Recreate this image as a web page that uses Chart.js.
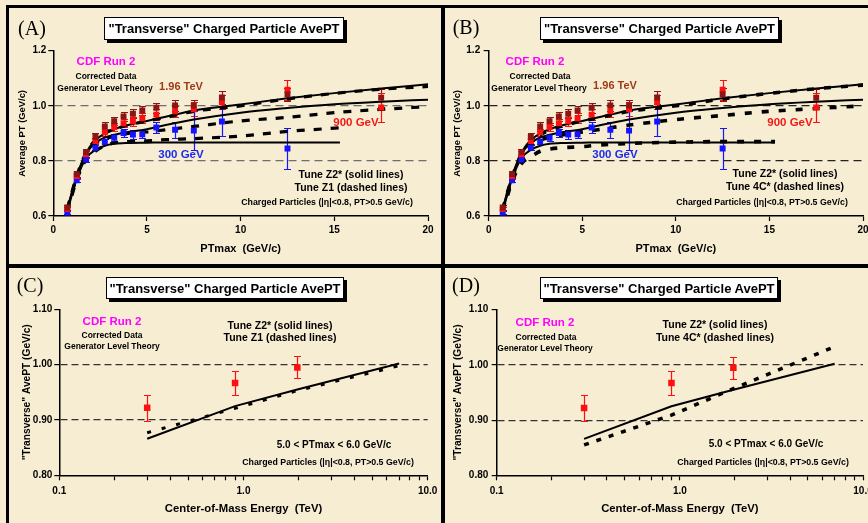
<!DOCTYPE html>
<html>
<head>
<meta charset="utf-8">
<script src="https://cdn.jsdelivr.net/npm/chart.js@4.4.1/dist/chart.umd.min.js"></script>
<style>
  body { margin: 0; background: #f7edd3; }
  #stage { position: relative; width: 868px; height: 523px; overflow: hidden; background: #f7edd3; }
  canvas { position: absolute; }
  .rule { position: absolute; background: #000; z-index: 5; }
  .tag { position: absolute; font-family: 'Liberation Serif', 'Times New Roman', serif; font-size: 20px; transform: translate(-50%, -50%); z-index: 4; }
  .title { position: absolute; background: #fff; border: 1px solid #000; box-shadow: 3px 3px 0 #000; font: bold 13px 'Liberation Sans', Arial, sans-serif; display: flex; align-items: center; justify-content: center; white-space: nowrap; z-index: 4; }
  .note { position: absolute; font-family: 'Liberation Sans', Arial, sans-serif; font-weight: bold; white-space: nowrap; transform: translate(-50%, -50%); z-index: 4; line-height: 1; }
  .cdf { color: #f0f; font-size: 11.5px; }
  .small { font-size: 8.5px; }
  .tune { font-size: 10.5px; }
  .cuts { font-size: 8.8px; }
  .e196 { color: #9e3a16; font-size: 11px; }
  .e900 { color: #f21818; font-size: 11.5px; }
  .e300 { color: #1b2cf0; font-size: 11.5px; }
  .range { font-size: 10px; }
</style>
</head>
<body>
<div id="stage">
  <canvas id="cA" width="443" height="264" style="left:0;top:0"></canvas>
  <canvas id="cB" width="460" height="264" style="left:443px;top:0"></canvas>
  <canvas id="cC" width="443" height="259" style="left:0;top:264px"></canvas>
  <canvas id="cD" width="460" height="259" style="left:443px;top:264px"></canvas>

  <div class="rule" style="left:6px;top:5px;width:862px;height:3px"></div>
  <div class="rule" style="left:6px;top:5px;width:3px;height:518px"></div>
  <div class="rule" style="left:441px;top:5px;width:4px;height:518px"></div>
  <div class="rule" style="left:6px;top:264px;width:862px;height:4px"></div>

  <!-- panel A -->
  <div class="tag" style="left:32px;top:28px">(A)</div>
  <div class="title" style="left:104px;top:17px;width:238px;height:21px">"Transverse" Charged Particle AvePT</div>
  <div class="note cdf" style="left:106px;top:62px">CDF Run 2</div>
  <div class="note small" style="left:106px;top:76px">Corrected Data</div>
  <div class="note small" style="left:105px;top:88px">Generator Level Theory</div>
  <div class="note e196" style="left:181px;top:86px">1.96 TeV</div>
  <div class="note e900" style="left:356px;top:123px">900 GeV</div>
  <div class="note e300" style="left:181px;top:155px">300 GeV</div>
  <div class="note tune" style="left:351px;top:174px">Tune Z2* (solid lines)</div>
  <div class="note tune" style="left:351px;top:187px">Tune Z1 (dashed lines)</div>
  <div class="note cuts" style="left:327px;top:202px">Charged Particles (|η|&lt;0.8, PT&gt;0.5 GeV/c)</div>

  <!-- panel B -->
  <div class="tag" style="left:466px;top:27px">(B)</div>
  <div class="title" style="left:540px;top:17px;width:237px;height:21px">"Transverse" Charged Particle AvePT</div>
  <div class="note cdf" style="left:535px;top:62px">CDF Run 2</div>
  <div class="note small" style="left:540px;top:76px">Corrected Data</div>
  <div class="note small" style="left:539px;top:88px">Generator Level Theory</div>
  <div class="note e196" style="left:615px;top:85px">1.96 TeV</div>
  <div class="note e900" style="left:790px;top:123px">900 GeV</div>
  <div class="note e300" style="left:615px;top:155px">300 GeV</div>
  <div class="note tune" style="left:785px;top:173px">Tune Z2* (solid lines)</div>
  <div class="note tune" style="left:785px;top:186px">Tune 4C* (dashed lines)</div>
  <div class="note cuts" style="left:762px;top:202px">Charged Particles (|η|&lt;0.8, PT&gt;0.5 GeV/c)</div>

  <!-- panel C -->
  <div class="tag" style="left:30px;top:285px">(C)</div>
  <div class="title" style="left:106px;top:277px;width:236px;height:20px">"Transverse" Charged Particle AvePT</div>
  <div class="note cdf" style="left:112px;top:322px">CDF Run 2</div>
  <div class="note small" style="left:112px;top:335px">Corrected Data</div>
  <div class="note small" style="left:112px;top:346px">Generator Level Theory</div>
  <div class="note tune" style="left:280px;top:325px">Tune Z2* (solid lines)</div>
  <div class="note tune" style="left:280px;top:337px">Tune Z1 (dashed lines)</div>
  <div class="note range" style="left:334px;top:445px">5.0 &lt; PTmax &lt; 6.0 GeV/c</div>
  <div class="note cuts" style="left:328px;top:462px">Charged Particles (|η|&lt;0.8, PT&gt;0.5 GeV/c)</div>

  <!-- panel D -->
  <div class="tag" style="left:466px;top:285px">(D)</div>
  <div class="title" style="left:540px;top:277px;width:236px;height:20px">"Transverse" Charged Particle AvePT</div>
  <div class="note cdf" style="left:545px;top:323px">CDF Run 2</div>
  <div class="note small" style="left:546px;top:337px">Corrected Data</div>
  <div class="note small" style="left:545px;top:348px">Generator Level Theory</div>
  <div class="note tune" style="left:715px;top:324px">Tune Z2* (solid lines)</div>
  <div class="note tune" style="left:715px;top:337px">Tune 4C* (dashed lines)</div>
  <div class="note range" style="left:766px;top:444px">5.0 &lt; PTmax &lt; 6.0 GeV/c</div>
  <div class="note cuts" style="left:763px;top:462px">Charged Particles (|η|&lt;0.8, PT&gt;0.5 GeV/c)</div>
</div>

<script>
// ---- panels A/B: AvePT vs PTmax ----
const ptBins = [0.75, 1.25, 1.75, 2.25, 2.75, 3.25, 3.75, 4.25, 4.75, 5.5, 6.5, 7.5, 9, 12.5, 17.5];
const data196 = [0.631, 0.752, 0.832, 0.887, 0.925, 0.944, 0.961, 0.971, 0.983, 0.993, 1.001, 1.001, 1.030, 1.041, 1.029];
const err196 = [0.008, 0.010, 0.012, 0.014, 0.015, 0.015, 0.016, 0.017, 0.018, 0.018, 0.020, 0.020, 0.022, 0.022, 0.032];
const data900 = [0.625, 0.745, 0.824, 0.872, 0.904, 0.923, 0.937, 0.944, 0.955, 0.968, 0.980, 0.987, 1.013, 1.058, 0.994];
const err900 = [0.008, 0.010, 0.012, 0.012, 0.012, 0.014, 0.015, 0.016, 0.018, 0.020, 0.020, 0.025, 0.025, 0.037, 0.052];
const ptBins300 = [0.75, 1.25, 1.75, 2.25, 2.75, 3.25, 3.75, 4.25, 4.75, 5.5, 6.5, 7.5, 9, 12.5];
const data300 = [0.613, 0.730, 0.805, 0.848, 0.870, 0.884, 0.901, 0.896, 0.897, 0.921, 0.913, 0.910, 0.943, 0.845];
const err300 = [0.006, 0.008, 0.010, 0.010, 0.010, 0.012, 0.015, 0.015, 0.015, 0.020, 0.030, 0.070, 0.054, 0.076];

const thX = [0.75, 1.25, 1.75, 2.25, 2.75, 3.25, 4, 5, 6, 7.5, 10, 12.5, 15, 17.5, 20];
const thX300 = [0.75, 1.25, 1.75, 2.25, 2.75, 3.25, 4, 5, 6, 7.5, 10, 12.5, 15.3];
const z2s196 = [0.628, 0.745, 0.830, 0.875, 0.900, 0.915, 0.930, 0.945, 0.960, 0.983, 1.005, 1.027, 1.046, 1.063, 1.078];
const z2s900 = [0.625, 0.742, 0.825, 0.865, 0.885, 0.895, 0.905, 0.915, 0.930, 0.950, 0.975, 0.992, 1.006, 1.015, 1.022];
const z2s300 = [0.618, 0.735, 0.810, 0.840, 0.855, 0.862, 0.865, 0.866, 0.867, 0.867, 0.867, 0.867, 0.867];
const z1v196 = [0.628, 0.745, 0.830, 0.875, 0.900, 0.915, 0.930, 0.945, 0.958, 0.980, 1.000, 1.025, 1.045, 1.060, 1.070];
const z1v900 = [0.625, 0.740, 0.822, 0.862, 0.880, 0.890, 0.900, 0.905, 0.913, 0.925, 0.945, 0.958, 0.975, 0.987, 0.997];
const z1v300 = [0.615, 0.730, 0.805, 0.835, 0.855, 0.865, 0.870, 0.873, 0.877, 0.881, 0.890, 0.907, 0.920];
const c4v196 = [0.625, 0.740, 0.825, 0.870, 0.895, 0.912, 0.928, 0.945, 0.958, 0.980, 1.000, 1.025, 1.045, 1.062, 1.075];
const c4v900 = [0.620, 0.735, 0.815, 0.855, 0.875, 0.885, 0.895, 0.905, 0.915, 0.930, 0.950, 0.965, 0.980, 0.990, 1.000];
const c4v300 = [0.615, 0.725, 0.790, 0.815, 0.835, 0.843, 0.848, 0.852, 0.858, 0.863, 0.868, 0.870, 0.870];

const ptTicksX = [0, 5, 10, 15, 20];
const ptTicksY = [0.6, 0.8, 1.0, 1.2];
const ptRefLines = [0.8, 1.0];

// ---- panels C/D: AvePT vs sqrt(s) ----
const eData = [0.3, 0.9, 1.96];
const eVals = [0.922, 0.967, 0.995];
const eErrs = [0.024, 0.022, 0.020];
const eTh = [0.3, 0.9, 1.96, 7];
const eZ2s = [0.866, 0.925, 0.955, 1.002];
const eZ1 = [0.877, 0.921, 0.953, 0.998];
const e4C = [0.855, 0.909, 0.957, 1.033];

const eTicksX = [0.1, 0.2, 0.3, 0.4, 0.5, 0.6, 0.7, 0.8, 0.9, 1, 2, 3, 4, 5, 6, 7, 8, 9, 10];
const eLabelled = [0.1, 1, 10];
const eTicksY = [0.8, 0.9, 1.0, 1.1];
const eRefLines = [0.9, 1.0];

Chart.defaults.font.family = "'Liberation Sans', Arial, Helvetica, sans-serif";
Chart.defaults.font.weight = 'bold';
Chart.defaults.color = '#000';
Chart.defaults.animation = false;

const errorBars = {
  id: 'errorBars',
  beforeDatasetsDraw(chart) {
    const { ctx, scales: { x, y } } = chart;
    chart.data.datasets.forEach(ds => {
      if (!ds.errors) return;
      ctx.save();
      ctx.strokeStyle = ds.borderColor;
      ctx.lineWidth = 1.2;
      ds.data.forEach((p, i) => {
        const px = Math.round(x.getPixelForValue(p.x)) + 0.5;
        const hi = Math.round(y.getPixelForValue(p.y + ds.errors[i])) + 0.5;
        const lo = Math.round(y.getPixelForValue(p.y - ds.errors[i])) + 0.5;
        ctx.beginPath();
        ctx.moveTo(px, hi); ctx.lineTo(px, lo);
        ctx.moveTo(px - 3.5, hi); ctx.lineTo(px + 3.5, hi);
        ctx.moveTo(px - 3.5, lo); ctx.lineTo(px + 3.5, lo);
        ctx.stroke();
      });
      ctx.restore();
    });
  }
};

const xy = (xs, ys) => xs.map((x, i) => ({ x, y: ys[i] }));

function points(label, xs, ys, errs, color, r) {
  return { label, data: xy(xs, ys), errors: errs, showLine: false, pointStyle: 'rect',
    pointRadius: r, backgroundColor: color, borderColor: color, borderWidth: 0 };
}

function curve(label, xs, ys, dash, width, smooth) {
  return { label, data: xy(xs, ys), showLine: true, pointRadius: 0, borderColor: '#000',
    borderWidth: width, borderDash: dash, tension: 0,
    cubicInterpolationMode: smooth ? 'monotone' : 'default', fill: false };
}

function yScale(g, ticks, refs, digits, title, titleSize, gridColor, gridDash) {
  return {
    type: 'linear', position: 'left', min: ticks[0], max: ticks[ticks.length - 1],
    afterBuildTicks: s => { s.ticks = ticks.map(v => ({ value: v })); },
    afterFit: s => { s.width = g.yw; },
    ticks: { callback: v => v.toFixed(digits), font: { size: 10, weight: 'bold' }, padding: g.ytp, color: '#000' },
    grid: {
      color: c => (c.tick && refs.some(r => Math.abs(r - c.tick.value) < 1e-6)) ? gridColor : 'rgba(0,0,0,0)',
      tickColor: '#000', tickLength: 5, lineWidth: 1.2, tickWidth: 1.2
    },
    border: { color: '#000', width: 1.5, dash: gridDash },
    title: { display: true, text: title, color: '#000', font: { size: titleSize, weight: 'bold' },
      padding: { top: g.ytitle, bottom: 0 } }
  };
}

function xScale(g, type, ticks, labelFn, title, titleSize) {
  return {
    type, position: 'bottom', min: ticks[0], max: ticks[ticks.length - 1],
    afterBuildTicks: s => { s.ticks = ticks.map(v => ({ value: v })); },
    afterFit: s => { s.height = g.xh; },
    ticks: { callback: labelFn, autoSkip: false, maxRotation: 0, minRotation: 0,
      font: { size: 10, weight: 'bold' }, padding: g.xtp, color: '#000' },
    grid: { drawOnChartArea: false, color: '#000', tickColor: '#000', tickLength: 5, tickWidth: 1.2 },
    border: { color: '#000', width: 1.5 },
    title: { display: true, text: title, color: '#000', font: { size: titleSize, weight: 'bold' },
      padding: { top: 0, bottom: g.xtitle } }
  };
}

function makeChart(id, g, datasets, scales) {
  return new Chart(document.getElementById(id), {
    type: 'scatter',
    data: { datasets },
    options: {
      responsive: false,
      layout: { padding: { left: 0, top: g.top, right: g.pr, bottom: 0 } },
      plugins: { legend: { display: false }, tooltip: { enabled: false } },
      scales
    },
    plugins: [errorBars]
  });
}

function ptDatasets(alt, dash, width) {
  return [
    points('1.96 TeV', ptBins, data196, err196, '#8c1616', 4.2),
    points('900 GeV', ptBins, data900, err900, '#ff1010', 4.2),
    points('300 GeV', ptBins300, data300, err300, '#1414ff', 4.2),
    curve('Z2* 1.96 TeV', thX, z2s196, [], 2, true),
    curve('Z2* 900 GeV', thX, z2s900, [], 2, true),
    curve('Z2* 300 GeV', thX300, z2s300, [], 2, true),
    curve(alt[0], thX, alt[1], dash, width, true),
    curve(alt[2], thX, alt[3], dash, width, true),
    curve(alt[4], thX300, alt[5], dash, width, true)
  ];
}

const gA = { top: 50.7, pr: 15, yw: 53.3, xh: 48, ytp: 2, xtp: 3, ytitle: 16.5, xtitle: 8.5 };
const gB = { top: 50.7, pr: 40, yw: 45.7, xh: 48, ytp: 3.5, xtp: 3, ytitle: 8.5, xtitle: 8.5 };
const gC = { top: 45.3, pr: 15.3, yw: 59.3, xh: 47.7, ytp: 2, xtp: 5, ytitle: 21, xtitle: 7.2 };
const gD = { top: 45.7, pr: 40, yw: 53.7, xh: 47.7, ytp: 3.4, xtp: 5, ytitle: 9, xtitle: 7.2 };

const ptLabel = v => String(v);
const eLabel = v => eLabelled.includes(v) ? v.toFixed(1) : '';

makeChart('cA', gA,
  ptDatasets(['Z1 1.96 TeV', z1v196, 'Z1 900 GeV', z1v900, 'Z1 300 GeV', z1v300], [8, 9], 3.2),
  { x: xScale(gA, 'linear', ptTicksX, ptLabel, 'PTmax  (GeV/c)', 11),
    y: yScale(gA, ptTicksY, ptRefLines, 1, 'Average PT (GeV/c)', 9.4, '#6e6e6e', [8, 5]) });

makeChart('cB', gB,
  ptDatasets(['4C* 1.96 TeV', c4v196, '4C* 900 GeV', c4v900, '4C* 300 GeV', c4v300], [7, 10], 3.6),
  { x: xScale(gB, 'linear', ptTicksX, ptLabel, 'PTmax  (GeV/c)', 11),
    y: yScale(gB, ptTicksY, ptRefLines, 1, 'Average PT (GeV/c)', 9.4, '#222', [8, 5]) });

makeChart('cC', gC, [
    points('CDF data', eData, eVals, eErrs, '#ff1010', 4.6),
    curve('Tune Z2*', eTh, eZ2s, [], 2, false),
    curve('Tune Z1', eTh, eZ1, [4, 11], 3, false)
  ],
  { x: xScale(gC, 'logarithmic', eTicksX, eLabel, 'Center-of-Mass Energy  (TeV)', 11.3),
    y: yScale(gC, eTicksY, eRefLines, 2, '"Transverse" AvePT (GeV/c)', 10.2, '#333', [7, 4]) });

makeChart('cD', gD, [
    points('CDF data', eData, eVals, eErrs, '#ff1010', 4.6),
    curve('Tune Z2*', eTh, eZ2s, [], 2, false),
    curve('Tune 4C*', eTh, e4C, [5, 8], 3.5, false)
  ],
  { x: xScale(gD, 'logarithmic', eTicksX, eLabel, 'Center-of-Mass Energy  (TeV)', 11.3),
    y: yScale(gD, eTicksY, eRefLines, 2, '"Transverse" AvePT (GeV/c)', 10.2, '#333', [7, 4]) });
</script>
</body>
</html>
